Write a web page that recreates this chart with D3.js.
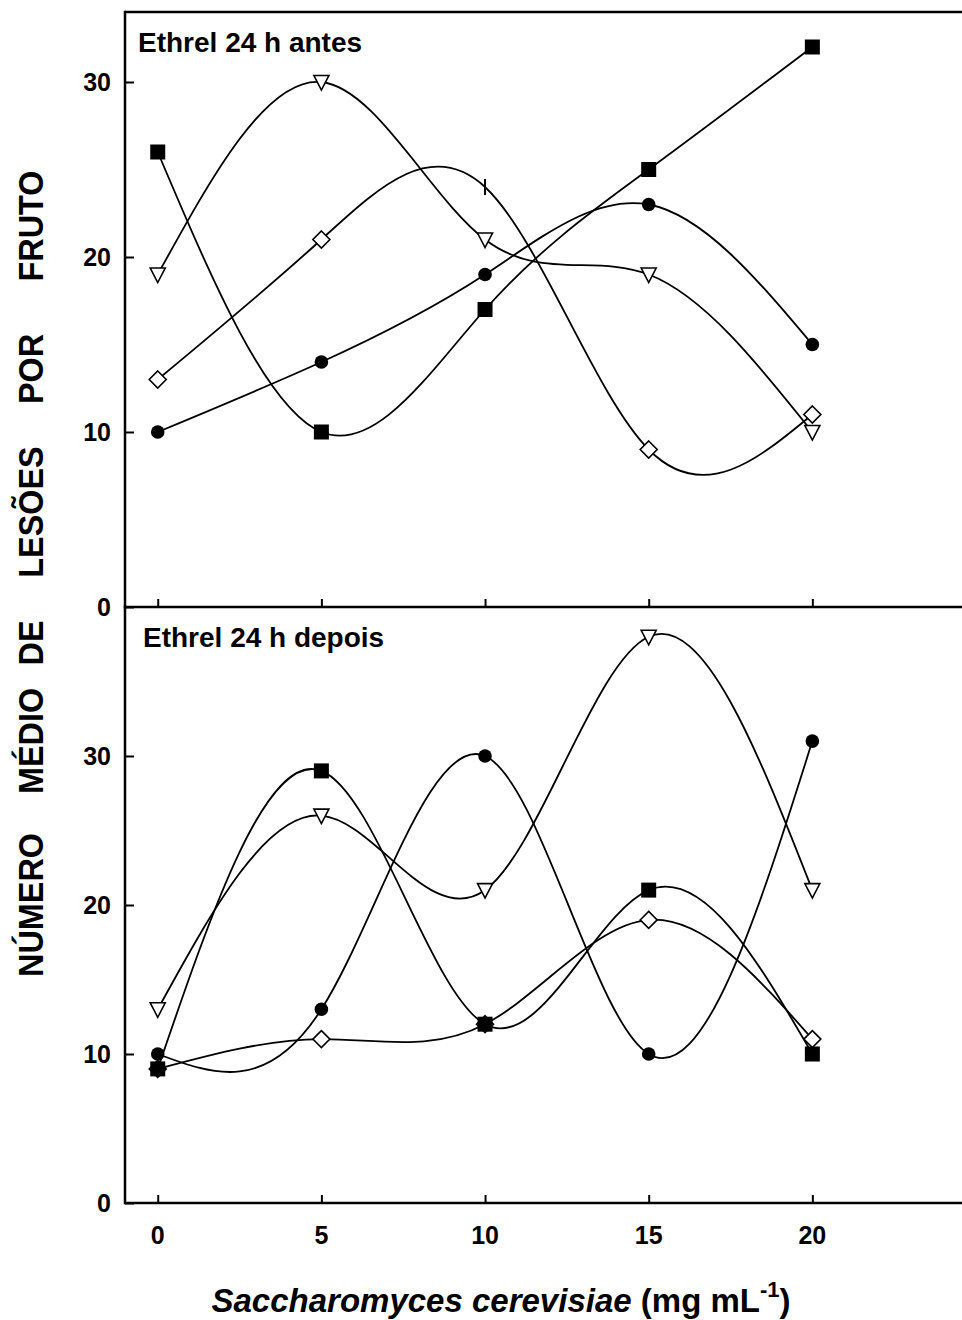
<!DOCTYPE html>
<html>
<head>
<meta charset="utf-8">
<script src="https://cdn.jsdelivr.net/npm/d3@7"></script>
<style>
  body { margin: 0; background: #fff; }
  svg text { font-family: "Liberation Sans", Arial, sans-serif; font-weight: bold; fill: #000; }
</style>
</head>
<body>
<div id="container"></div>
<script>
/* CONSTANTS AND GLOBALS */
const width = 962,
  height = 1320,
  left = 125,
  right = 976;

/* DATA */
const doses = [0, 5, 10, 15, 20];
const xTicks = [0, 5, 10, 15, 20];
const yTicks = [0, 10, 20, 30];

// Ethrel 24 h antes
const antesSquare = [26, 10, 17, 25, 32];
const antesCircle = [10, 14, 19, 23, 15];
const antesTriangle = [19, 30, 21, 19, 10];
const antesDiamond = [13, 21, 24, 9, 11];

// Ethrel 24 h depois
const depoisSquare = [9, 29, 12, 21, 10];
const depoisCircle = [10, 13, 30, 10, 31];
const depoisTriangle = [13, 26, 21, 38, 21];
const depoisDiamond = [9, 11, 12, 19, 11];

const yWords = ["NÚMERO", "MÉDIO", "DE", "LESÕES", "POR", "FRUTO"];
const yWordPos = [905, 741, 643, 512, 369, 226];

const svg = d3.select("#container").append("svg")
  .attr("width", width)
  .attr("height", height);

/* SCALES */
const xScale = d3.scaleLinear()
  .domain([-1, 25])
  .range([left, right]);

const panels = [
  { label: "Ethrel 24 h antes", top: 12, bottom: 607, max: 34, labelX: 138, labelY: 52,
    series: [
      { values: antesDiamond, shape: "diamond", bar: 2 },
      { values: antesTriangle, shape: "triangle" },
      { values: antesCircle, shape: "circle" },
      { values: antesSquare, shape: "square" }
    ] },
  { label: "Ethrel 24 h depois", top: 607, bottom: 1203, max: 40, labelX: 143, labelY: 647,
    series: [
      { values: depoisDiamond, shape: "diamond" },
      { values: depoisTriangle, shape: "triangle" },
      { values: depoisCircle, shape: "circle" },
      { values: depoisSquare, shape: "square" }
    ] }
];

panels.forEach(p => {
  const yScale = d3.scaleLinear()
    .domain([0, p.max])
    .range([p.bottom, p.top]);

  const g = svg.append("g");

  // axes: ticks point inward
  const xAxis = d3.axisTop(xScale).tickValues(xTicks).tickSize(8).tickFormat("");
  const yAxis = d3.axisRight(yScale).tickValues(yTicks).tickSize(9).tickFormat("");

  g.append("g")
    .attr("transform", `translate(0,${p.bottom})`)
    .call(xAxis)
    .call(a => a.select(".domain").remove())
    .selectAll("line").attr("stroke", "#000").attr("stroke-width", 2);

  g.append("g")
    .attr("transform", `translate(${left},0)`)
    .call(yAxis)
    .call(a => a.select(".domain").remove())
    .selectAll("line").attr("stroke", "#000").attr("stroke-width", 2);

  g.selectAll("text.ylab")
    .data(yTicks)
    .join("text")
    .attr("class", "ylab")
    .attr("x", 111)
    .attr("y", d => yScale(d))
    .attr("dy", "0.36em")
    .attr("text-anchor", "end")
    .style("font-size", "25px")
    .text(d => d);

  // frame lines
  g.append("line")
    .attr("x1", left).attr("x2", right)
    .attr("y1", p.bottom).attr("y2", p.bottom)
    .attr("stroke", "#000").attr("stroke-width", 2.5);
  g.append("line")
    .attr("x1", left).attr("x2", left)
    .attr("y1", p.top - 1.2).attr("y2", p.bottom + 1.2)
    .attr("stroke", "#000").attr("stroke-width", 2.5);
  if (p.top === 12) {
    g.append("line")
      .attr("x1", left).attr("x2", right)
      .attr("y1", p.top).attr("y2", p.top)
      .attr("stroke", "#000").attr("stroke-width", 2.5);
  }

  const line = d3.line()
    .x((d, i) => xScale(doses[i]))
    .y(d => yScale(d))
    .curve(d3.curveNatural);

  p.series.forEach(s => {
    g.append("path")
      .datum(s.values)
      .attr("d", line)
      .attr("fill", "none")
      .attr("stroke", "#000")
      .attr("stroke-width", 1.8);
  });

  p.series.forEach(s => {
    const pts = g.selectAll(null)
      .data(s.values.map((v, i) => ({ x: doses[i], y: v, i: i })))
      .join("g")
      .attr("transform", d => `translate(${xScale(d.x)},${yScale(d.y)})`);

    pts.each(function(d) {
      const m = d3.select(this);
      if (s.bar === d.i) {
        m.append("line").attr("y1", -8).attr("y2", 8)
          .attr("stroke", "#000").attr("stroke-width", 2);
        return;
      }
      if (s.shape === "square") {
        m.append("rect").attr("x", -7.5).attr("y", -7.5)
          .attr("width", 15).attr("height", 15).attr("fill", "#000");
      } else if (s.shape === "circle") {
        m.append("circle").attr("r", 6.8).attr("fill", "#000");
      } else if (s.shape === "triangle") {
        m.append("path").attr("d", "M-7.5,-6.5 L7.5,-6.5 L0,8 Z")
          .attr("fill", "#fff").attr("stroke", "#000").attr("stroke-width", 1.6);
      } else {
        m.append("path").attr("d", "M0,-8.5 L8.5,0 L0,8.5 L-8.5,0 Z")
          .attr("fill", "#fff").attr("stroke", "#000").attr("stroke-width", 1.6);
      }
    });
  });

  g.append("text")
    .attr("x", p.labelX)
    .attr("y", p.labelY)
    .style("font-size", "28px")
    .text(p.label);
});

/* X TICK LABELS */
svg.selectAll("text.xlab")
  .data(xTicks)
  .join("text")
  .attr("class", "xlab")
  .attr("x", d => xScale(d))
  .attr("y", 1244)
  .attr("text-anchor", "middle")
  .style("font-size", "25px")
  .text(d => d);

/* AXIS TITLES */
const xTitle = svg.append("text")
  .attr("x", 501)
  .attr("y", 1312)
  .attr("text-anchor", "middle")
  .style("font-size", "33px");
xTitle.append("tspan").style("font-style", "italic").text("Saccharomyces cerevisiae");
xTitle.append("tspan").text(" (mg mL");
xTitle.append("tspan").attr("dy", -15).style("font-size", "22px").text("-1");
xTitle.append("tspan").attr("dy", 15).text(")");

svg.selectAll("text.yword")
  .data(yWords)
  .join("text")
  .attr("class", "yword")
  .attr("text-anchor", "middle")
  .attr("transform", (d, i) => `translate(43,${yWordPos[i]}) rotate(-90) scale(0.9,1)`)
  .style("font-size", "36px")
  .text(d => d);
</script>
</body>
</html>
